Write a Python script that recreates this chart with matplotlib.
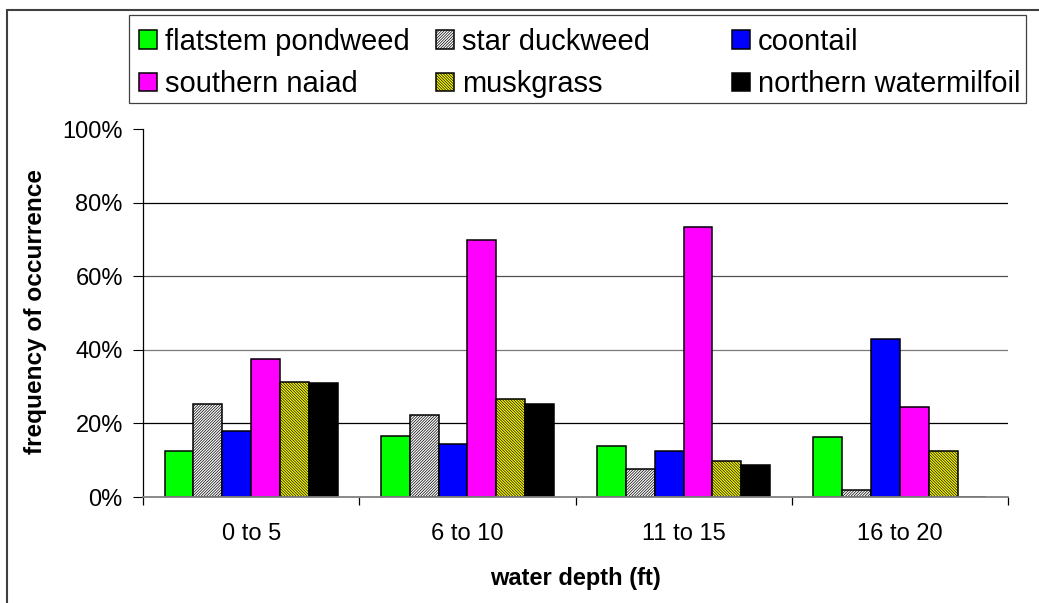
import matplotlib
matplotlib.use("Agg")
import matplotlib.pyplot as plt
from matplotlib.patches import Rectangle
from matplotlib.ticker import FixedLocator, PercentFormatter

plt.rcParams['font.family'] = ['Liberation Sans', 'DejaVu Sans']
plt.rcParams['hatch.linewidth'] = 0.5

# Frequency of occurrence (%) of each plant by water depth class
depth_classes = ["0 to 5", "6 to 10", "11 to 15", "16 to 20"]
species = ["flatstem pondweed", "star duckweed", "coontail",
           "southern naiad", "muskgrass", "northern watermilfoil"]
flatstem_pondweed = [12.4, 16.6, 13.8, 16.3]
star_duckweed = [25.3, 22.4, 7.5, 2.0]
coontail = [17.9, 14.5, 12.4, 43.0]
southern_naiad = [37.5, 69.8, 73.5, 24.5]
muskgrass = [31.2, 26.7, 9.9, 12.4]
northern_watermilfoil = [31.0, 25.4, 8.8, 0.0]
series = [flatstem_pondweed, star_duckweed, coontail,
          southern_naiad, muskgrass, northern_watermilfoil]
y_ticks = [0, 20, 40, 60, 80, 100]

styles = [
    dict(facecolor="#00FF00", hatch=None),
    dict(facecolor="#FFFFFF", hatch="/" * 12),
    dict(facecolor="#0000FF", hatch=None),
    dict(facecolor="#FF00FF", hatch=None),
    dict(facecolor="#FFFF00", hatch="\\" * 12),
    dict(facecolor="#000000", hatch=None),
]

W, H = 1039, 603
fig = plt.figure(figsize=(W / 100, H / 100), dpi=100)
ax = fig.add_axes([143 / W, 1 - 497 / H, (1008 - 143) / W, (497 - 129) / H])

n = len(series)
group_frac = 0.8
bw = group_frac / n
containers = []
for j, (vals, st) in enumerate(zip(series, styles)):
    xs = [i + (1 - group_frac) / 2 + j * bw for i in range(len(depth_classes))]
    c = ax.bar(xs, vals, width=bw, align="edge", facecolor=st["facecolor"],
               hatch=st["hatch"], edgecolor="black", linewidth=1.1,
               label=species[j], zorder=3)
    containers.append(c)

ax.set_xlim(0, len(depth_classes))
ax.set_ylim(0, 100)

# y axis
ax.yaxis.set_major_locator(FixedLocator(y_ticks))
ax.yaxis.set_major_formatter(PercentFormatter(decimals=0))
ax.tick_params(axis="y", direction="out", length=7.5, width=0.8, pad=7,
               labelsize=17, colors="black")
ax.yaxis.grid(True, color="black", linewidth=0.9, zorder=0)
grid_colors = {20: "#000000", 40: "#7a7a7a", 60: "#505050", 80: "#000000"}
for val, gl in zip(y_ticks, ax.yaxis.get_gridlines()):
    if val in grid_colors:
        gl.set_color(grid_colors[val])
    else:
        gl.set_visible(False)

# x axis: ticks at category boundaries, labels centred in each category
ax.set_xticks(range(len(depth_classes) + 1))
ax.set_xticklabels([])
ax.set_xticks([i + 0.5 for i in range(len(depth_classes))], minor=True)
ax.set_xticklabels(depth_classes, minor=True)
ax.tick_params(axis="x", which="major", direction="out", length=5.5,
               width=0.9, colors="black")
ax.tick_params(axis="x", which="minor", length=0, pad=19, labelsize=17)

for s in ("top", "right"):
    ax.spines[s].set_visible(False)
ax.spines["left"].set_color("black")
ax.spines["left"].set_linewidth(0.9)
ax.spines["bottom"].set_color("#808080")
ax.spines["bottom"].set_linewidth(1.3)
ax.spines["left"].set_zorder(4)
ax.spines["bottom"].set_zorder(4)

ax.set_ylabel("frequency of occurrence", fontsize=17.6, fontweight="bold")
ax.yaxis.set_label_coords(47 / W, 1 - 311 / H, transform=fig.transFigure)
ax.set_xlabel("water depth (ft)", fontsize=17, fontweight="bold")
ax.xaxis.set_label_coords((143 + 1008) / 2 / W, 1 - 578 / H,
                          transform=fig.transFigure)
ax.xaxis.label.set_verticalalignment("center")

# legend: three columns placed at even spacing inside one frame
col_x = [139, 436, 732]
for k, x0 in enumerate(col_x):
    hs = [containers[k], containers[k + 3]]
    ls = [species[k], species[k + 3]]
    fig.legend(hs, ls, loc="upper left",
               bbox_to_anchor=(x0 / W, 1 - 28 / H),
               frameon=False, borderpad=0, borderaxespad=0,
               fontsize=21, handlelength=0.62, handleheight=0.62,
               handletextpad=0.27, labelspacing=0.49)
fig.patches.append(Rectangle((129 / W, 1 - 103 / H), (1026 - 129) / W, 88 / H,
                             transform=fig.transFigure, fill=False,
                             edgecolor="#404040", linewidth=0.9))

# outer chart border
fig.patches.append(Rectangle((7 / W, -0.05), 1.2, 1 - 10 / H + 0.05,
                             transform=fig.transFigure, fill=False,
                             edgecolor="#404040", linewidth=1.5))

fig.savefig("out.png", dpi=100)
